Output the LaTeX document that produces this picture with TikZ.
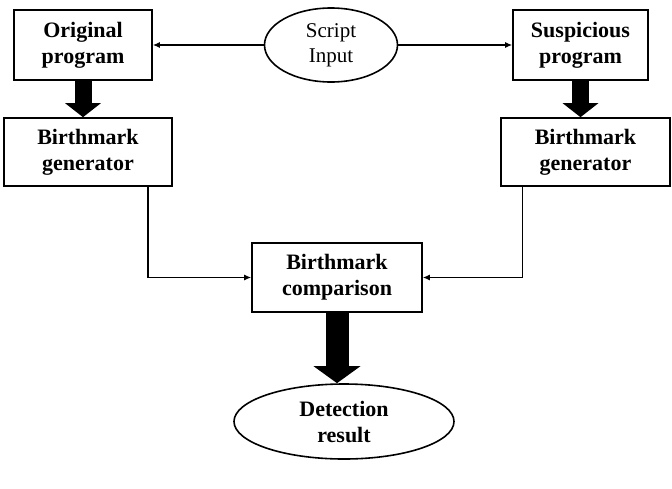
\documentclass[tikz,border=0pt]{standalone}
\usepackage{fontspec}
\setmainfont{Liberation Serif}
\usetikzlibrary{arrows.meta,shapes.geometric}

\begin{document}
\begin{tikzpicture}[
  x=1pt, y=-1pt,
  box/.style={draw, line width=1.6pt, align=center, inner sep=0pt, font=\fontsize{22}{26}\selectfont\bfseries},
  oval/.style={draw, ellipse, line width=1.6pt, align=center, inner sep=0pt},
  thin/.style={line width=1.2pt, -{Latex[length=7pt, width=6pt]}},
  fat/.style={line width=17pt, -{Triangle[length=14pt, width=35pt]}},
  fatbig/.style={line width=23pt, -{Triangle[length=17pt, width=46pt]}}
]
\useasboundingbox (0,0) rectangle (672,488);

% Inputs.
\node[box, minimum width=138pt, minimum height=70pt] (orig) at (83,45) {Original\\program};
\node[box, minimum width=135pt, minimum height=70pt] (susp) at (580.5,45) {Suspicious\\program};
\node[oval, minimum width=133pt, minimum height=74pt, font=\fontsize{21}{25}\selectfont] (script) at (331,45) {Script\\Input};

% Generators.
\node[box, minimum width=168pt, minimum height=68pt] (gen1) at (88,152) {Birthmark\\generator};
\node[box, minimum width=169pt, minimum height=68pt] (gen2) at (585.5,152) {Birthmark\\generator};

% Comparison and result.
\node[box, minimum width=170pt, minimum height=69pt] (comp) at (337,277.5) {Birthmark\\comparison};
\node[oval, minimum width=220pt, minimum height=75pt, font=\fontsize{22}{26}\selectfont\bfseries] (det) at (344,421.5) {Detection\\result};

% Connectors.
\draw[thin] (script.west) -- (orig.east);
\draw[thin] (script.east) -- (susp.west);
\draw[fat] (orig.south) -- (orig.south |- gen1.north);
\draw[fat] (susp.south) -- (susp.south |- gen2.north);
\draw[thin] ([xshift=60pt]gen1.south) |- (comp.west);
\draw[thin] ([xshift=-63pt]gen2.south) |- (comp.east);
\draw[fatbig] (comp.south) -- (comp.south |- det.north);
\end{tikzpicture}
\end{document}
